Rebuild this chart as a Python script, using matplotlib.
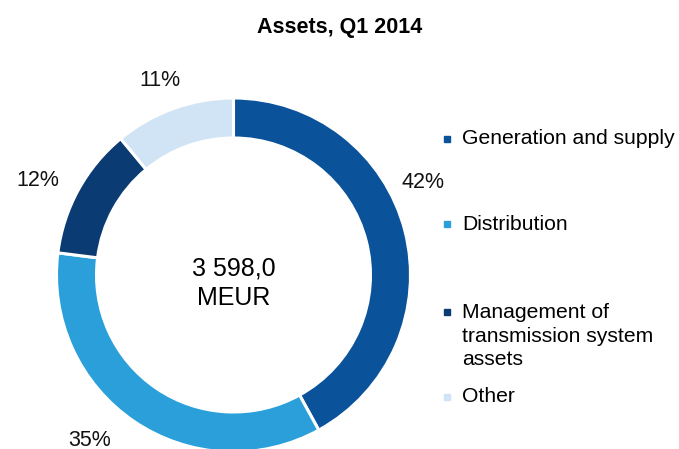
import matplotlib
matplotlib.use("Agg")
import matplotlib.pyplot as plt

plt.rcParams['font.family'] = ['Liberation Sans', 'DejaVu Sans']

# data
categories = ["Generation and supply", "Distribution",
              "Management of\ntransmission system\nassets", "Other"]
shares = [42, 35, 12, 11]
colors = ["#0A5299", "#2A9FDA", "#0B3B73", "#D0E4F5"]
total_text = "3 598,0\nMEUR"

W, H = 679, 449
fig = plt.figure(figsize=(W / 100, H / 100), dpi=100)
ax = fig.add_axes([0, 0, 1, 1])

cx, cy, r = 233.5, H - 275, 177
ring = 40

ax.pie(shares, colors=colors, startangle=90, counterclock=False,
       center=(cx, cy), radius=r, frame=True,
       wedgeprops=dict(width=ring, edgecolor='white', linewidth=2.2))
ax.set_xlim(0, W)
ax.set_ylim(0, H)
ax.axis('off')

# percentage labels outside the ring
label_pos = [(423, 183), (90, 440), (38, 180), (160, 80)]
for v, (px, py) in zip(shares, label_pos):
    ax.text(px, H - py, f"{v}%", ha='center', va='center', fontsize=15.5, color='#111111')

ax.text(cx, H - 283, total_text, ha='center', va='center', fontsize=18,
        linespacing=1.3, color='black')

ax.text(340, H - 28, "Assets, Q1 2014", ha='center', va='center',
        fontsize=15.5, fontweight='bold')

# legend (uneven spacing, so drawn by hand)
leg_y = [139, 224, 312, 397]
for cat, col, y in zip(categories, colors, leg_y):
    ax.plot([447], [H - y], marker='s', markersize=4.5, color=col, linestyle='none')
    if '\n' in cat:
        ax.text(462, H - y - 24, cat, ha='left', va='center', fontsize=15.2, linespacing=1.28)
    else:
        ax.text(462, H - y, cat, ha='left', va='center', fontsize=15.2)

fig.savefig("out.png", dpi=100)
